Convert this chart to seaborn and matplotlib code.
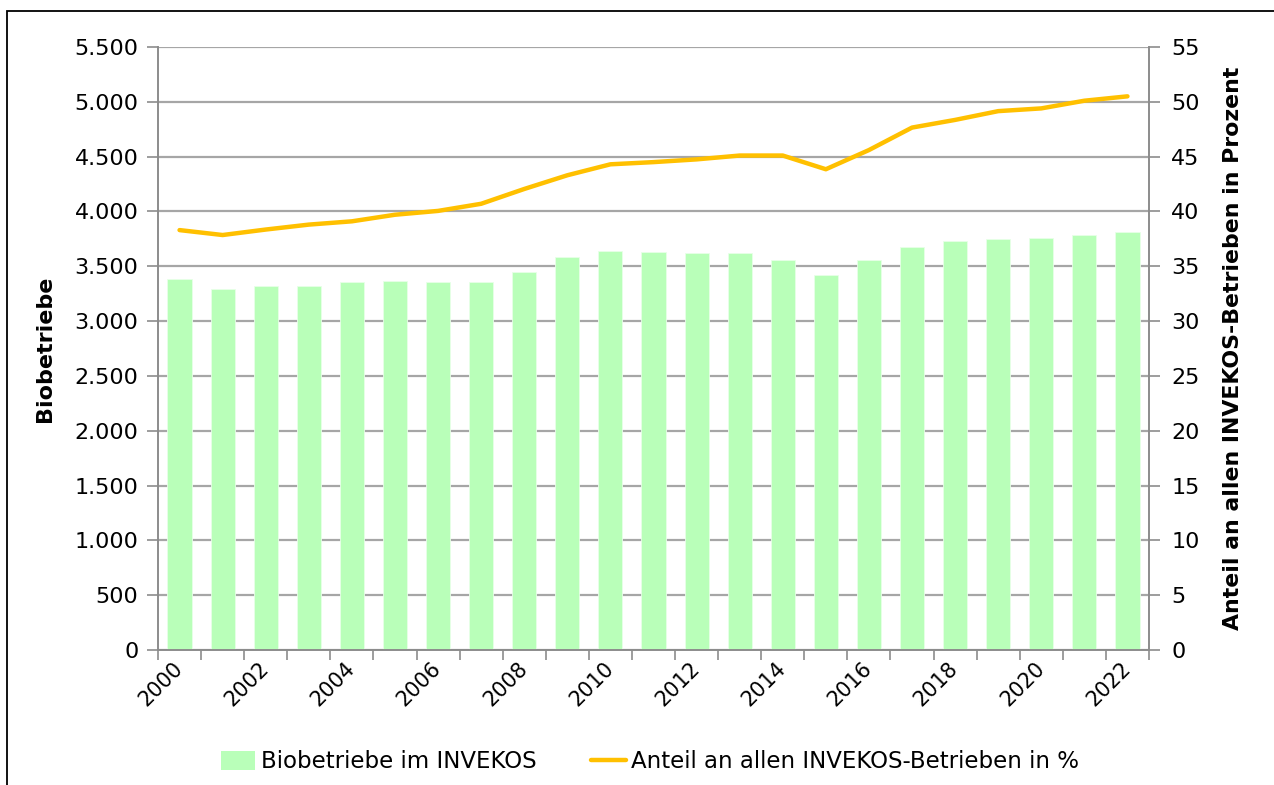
import numpy as np
import pandas as pd
import matplotlib
matplotlib.use("Agg")
import matplotlib.pyplot as plt
import seaborn as sns
from matplotlib.ticker import FuncFormatter, FixedLocator
from matplotlib.lines import Line2D
from matplotlib.patches import Patch, Rectangle

years = list(range(2000, 2023))
biobetriebe = [3384, 3295, 3320, 3320, 3356, 3366, 3356, 3356, 3452, 3582,
               3640, 3632, 3621, 3621, 3557, 3416, 3557, 3677, 3728, 3750,
               3762, 3787, 3810]
anteil = [38.3, 37.85, 38.35, 38.8, 39.1, 39.7, 40.05, 40.7, 42.05, 43.3,
          44.3, 44.5, 44.75, 45.1, 45.1, 43.85, 45.6, 47.65, 48.35, 49.15,
          49.4, 50.1, 50.5]
tick_years = [str(y) for y in range(2000, 2023, 2)]

bar_label = "Biobetriebe im INVEKOS"
line_label = "Anteil an allen INVEKOS-Betrieben in %"
ylabel_left = "Biobetriebe"
ylabel_right = "Anteil an allen INVEKOS-Betrieben in Prozent"

sns.set_theme(style="white")
plt.rcParams['font.family'] = ['DejaVu Sans']
plt.rcParams['text.color'] = 'black'
plt.rcParams['axes.labelcolor'] = 'black'
plt.rcParams['xtick.color'] = 'black'
plt.rcParams['ytick.color'] = 'black'

bar_color = "#b9ffb9"
line_color = "#ffc000"
grid_color = "#a6a6a6"
spine_color = "#8c8c8c"

df = pd.DataFrame({"Jahr": years, "Biobetriebe": biobetriebe, "Anteil": anteil})
df["pos"] = np.arange(len(df))

fig = plt.figure(figsize=(12.74, 7.85), dpi=100)
ax = fig.add_axes([158/1274, 1-650/785, (1149-158)/1274, (650-47)/785])

sns.barplot(data=df, x="Jahr", y="Biobetriebe", color=bar_color, width=0.56,
            saturation=1, ax=ax, edgecolor="#e8ffe8", linewidth=0.6, zorder=2)
ax.set_ylim(0, 5500)
ax.set_xlim(-0.5, len(years) - 0.5)
ax.yaxis.set_major_locator(FixedLocator(np.arange(0, 5501, 500)))
ax.yaxis.set_major_formatter(FuncFormatter(lambda v, p: f"{int(v):,}".replace(",", ".")))
ax.grid(axis="y", color=grid_color, linewidth=1.6, zorder=0)
ax.set_axisbelow(True)

ax2 = ax.twinx()
sns.lineplot(data=df, x="pos", y="Anteil", color=line_color, linewidth=3.2,
             ax=ax2, solid_capstyle="round")
ax2.set_ylim(0, 55)
ax2.yaxis.set_major_locator(FixedLocator(np.arange(0, 56, 5)))
ax.set_xlim(-0.5, len(years) - 0.5)

# x ticks: labels every two years, tick marks at category boundaries
ax.set_xticks(np.arange(0, len(years), 2))
ax.set_xticklabels(tick_years, rotation=45, ha="right", va="center",
                   rotation_mode="anchor", fontsize=15)
ax.set_xticks(np.arange(-0.5, len(years), 1), minor=True)
ax.tick_params(axis="x", which="major", length=0, pad=11)
ax.tick_params(axis="x", which="minor", length=7, width=1.2, color=spine_color,
               direction="out", bottom=True)
ax.tick_params(axis="y", which="major", length=8, width=1.2, color=spine_color,
               direction="out", labelsize=16, pad=6, left=True)
ax2.tick_params(axis="y", which="major", length=8, width=1.2, color=spine_color,
                direction="out", labelsize=16, pad=8, right=True)

for a in (ax, ax2):
    a.spines["top"].set_visible(False)
    for s in ("left", "right", "bottom"):
        a.spines[s].set_color(spine_color)
        a.spines[s].set_linewidth(1.4)
ax.spines["right"].set_visible(False)
ax2.spines["left"].set_visible(False)
ax2.spines["bottom"].set_visible(False)

ax.set_xlabel("")
ax.set_ylabel(ylabel_left, fontsize=16, fontweight="bold", labelpad=14)
ax2.set_ylabel(ylabel_right, fontsize=15.8, fontweight="bold", labelpad=17)

handles = [Patch(facecolor=bar_color, edgecolor="none", label=bar_label),
           Line2D([0], [0], color=line_color, linewidth=3.2, label=line_label)]
fig.legend(handles=handles, loc="center", bbox_to_anchor=(650/1274, 1-762/785),
           ncol=2, frameon=False, fontsize=16.5, handlelength=1.5, handleheight=0.9,
           handletextpad=0.25, columnspacing=2.4)

# outer frame
fig.patches.append(Rectangle((7/1274, -0.1), 1.2, 1-11/785 + 0.1,
                             transform=fig.transFigure, fill=False,
                             edgecolor="black", linewidth=1.3))

fig.savefig("out.png", dpi=100)
